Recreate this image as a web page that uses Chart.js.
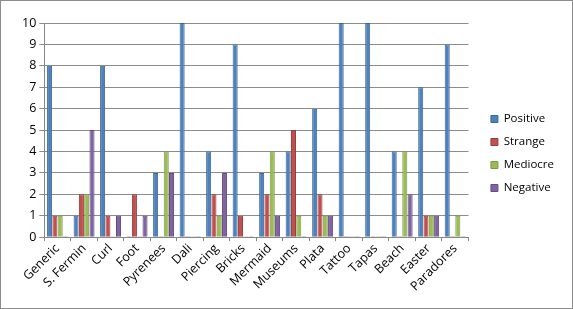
<!DOCTYPE html>
<html lang="en">
<head>
  <meta charset="UTF-8">
  <title>Ratings chart</title>
  <script src="https://cdn.jsdelivr.net/npm/chart.js"></script>
  <style>
    html, body { margin: 0; padding: 0; background: #fff; }
    .frame {
      width: 571px;
      height: 307px;
      border: 1px solid #8c8c8c;
      position: relative;
    }
  </style>
</head>
<body>
  <div class="frame">
    <canvas id="chart"></canvas>
  </div>

  <script>
    const categories = ['Generic', 'S. Fermin', 'Curl', 'Foot', 'Pyrenees', 'Dali', 'Piercing', 'Bricks',
      'Mermaid', 'Museums', 'Plata', 'Tattoo', 'Tapas', 'Beach', 'Easter', 'Paradores'];
    const positive = [8, 1, 8, 0, 3, 10, 4, 9, 3, 4, 6, 10, 10, 4, 7, 9];
    const strange  = [1, 2, 1, 2, 0, 0, 2, 1, 2, 5, 2, 0, 0, 0, 1, 0];
    const mediocre = [1, 2, 0, 0, 4, 0, 1, 0, 4, 1, 1, 0, 0, 4, 1, 1];
    const negative = [0, 5, 1, 1, 3, 0, 3, 0, 1, 0, 1, 0, 0, 2, 1, 0];
    const yTicks = [0, 1, 2, 3, 4, 5, 6, 7, 8, 9, 10];

    const font = "'Open Sans', 'Liberation Sans', sans-serif";

    function series(label, data, color, edge) {
      return {
        label: label,
        data: data,
        backgroundColor: color,
        borderColor: edge,
        borderWidth: 1,
        minBarLength: 1,
        categoryPercentage: 0.8,
        barPercentage: 0.95
      };
    }

    // widen the gap between the plot and the legend, like the original
    const legendGap = {
      id: 'legendGap',
      afterInit(chart) {
        const legend = chart.legend;
        const fit = legend.fit.bind(legend);
        legend.fit = function () {
          fit();
          this.width += 19;
        };
        const draw = legend.draw.bind(legend);
        legend.draw = function () {
          this.left += 11;
          this.top -= 5;
          this.bottom -= 5;
          draw();
          this.left -= 11;
          this.top += 5;
          this.bottom += 5;
        };
      }
    };

    new Chart(document.getElementById('chart'), {
      type: 'bar',
      data: {
        labels: categories,
        datasets: [
          series('Positive', positive, '#4f81bd', '#3a6699'),
          series('Strange', strange, '#c0504d', '#9a3b38'),
          series('Mediocre', mediocre, '#9bbb59', '#7c9a40'),
          series('Negative', negative, '#8064a2', '#634b82')
        ]
      },
      options: {
        responsive: true,
        maintainAspectRatio: false,
        animation: false,
        layout: { padding: { top: 22, left: 18, right: 0, bottom: 14 } },
        scales: {
          x: {
            offset: true,
            grid: { display: true, drawOnChartArea: false, offset: true, tickLength: 4, color: '#868686' },
            border: { color: '#868686' },
            ticks: {
              color: '#000',
              font: { family: font, size: 12.5 },
              maxRotation: 45,
              minRotation: 45,
              padding: 0
            }
          },
          y: {
            min: 0,
            max: 10,
            afterBuildTicks: axis => { axis.ticks = yTicks.map(v => ({ value: v })); },
            grid: { color: '#8c8c8c', tickLength: 5 },
            border: { color: '#868686' },
            ticks: {
              color: '#000',
              font: { family: font, size: 12.5 },
              padding: 3
            }
          }
        },
        plugins: {
          legend: {
            position: 'right',
            labels: {
              boxWidth: 7,
              boxHeight: 7,
              padding: 11.5,
              color: '#000',
              font: { family: font, size: 11.5 }
            }
          },
          tooltip: { enabled: false }
        }
      },
      plugins: [legendGap]
    });
  </script>
</body>
</html>
